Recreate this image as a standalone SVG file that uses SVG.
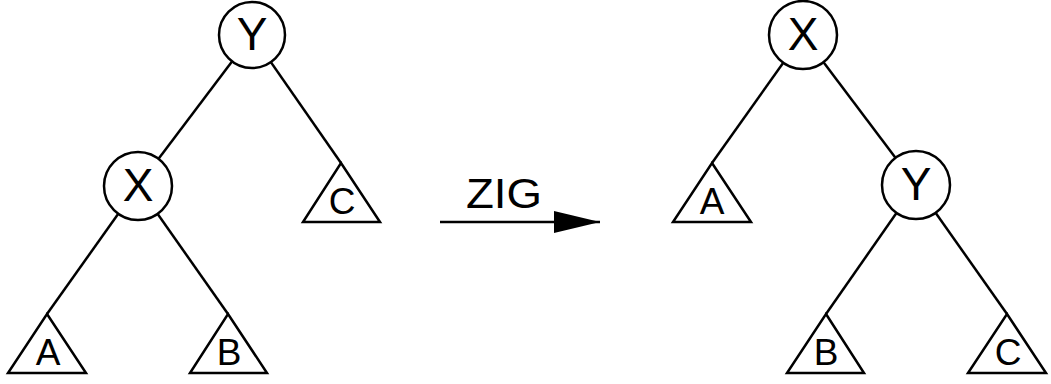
<svg xmlns="http://www.w3.org/2000/svg" width="1051" height="384" viewBox="0 0 1051 384">
  <defs>
    <marker id="head" viewBox="0 0 46 22" refX="46" refY="11" markerWidth="46" markerHeight="22" markerUnits="userSpaceOnUse" orient="auto">
      <path d="M0,0 L46,11 L0,22 Z" fill="#000"/>
    </marker>
  </defs>
  <style>
    .edge { stroke: #000; stroke-width: 2.5; fill: none; }
    .node circle { fill: #fff; stroke: #000; stroke-width: 2.5; }
    .node polygon { fill: #fff; stroke: #000; stroke-width: 2.5; stroke-linejoin: miter; }
    .key { font-family: "Liberation Sans", Arial, sans-serif; font-size: 46px; text-anchor: middle; fill: #000; }
    .sub { font-family: "Liberation Sans", Arial, sans-serif; font-size: 37px; text-anchor: middle; fill: #000; }
    .op { font-family: "Liberation Sans", Arial, sans-serif; font-size: 42px; fill: #000; }
  </style>

  <rect width="1051" height="384" fill="#fff"/>

  <!-- tree edges and the rotation arrow -->
  <g id="connectors">
    <line class="edge" x1="252" y1="35" x2="138" y2="186"/>
    <line class="edge" x1="252" y1="35" x2="341" y2="163"/>
    <line class="edge" x1="138" y1="186" x2="47" y2="314"/>
    <line class="edge" x1="138" y1="186" x2="228" y2="314"/>

    <line class="edge" x1="803" y1="35" x2="712" y2="163"/>
    <line class="edge" x1="803" y1="35" x2="916" y2="185"/>
    <line class="edge" x1="916" y1="185" x2="826" y2="314"/>
    <line class="edge" x1="916" y1="185" x2="1007" y2="314"/>

    <line class="edge" x1="440" y1="222" x2="600" y2="222" marker-end="url(#head)"/>
  </g>

  <text class="op" x="466" y="208" textLength="76" lengthAdjust="spacingAndGlyphs">ZIG</text>

  <!-- before rotation -->
  <g id="left-Y" class="node">
    <circle cx="252" cy="35" r="33"/>
    <text class="key" x="252" y="50">Y</text>
  </g>
  <g id="left-X" class="node">
    <circle cx="138" cy="186" r="34"/>
    <text class="key" x="138" y="201">X</text>
  </g>
  <g id="left-A" class="node">
    <polygon points="47,314 86,373 8,373"/>
    <text class="sub" x="48" y="365">A</text>
  </g>
  <g id="left-B" class="node">
    <polygon points="228,314 267,373 190,373"/>
    <text class="sub" x="229" y="365">B</text>
  </g>
  <g id="left-C" class="node">
    <polygon points="341,163 380,222 303,222"/>
    <text class="sub" x="342" y="214">C</text>
  </g>

  <!-- after rotation -->
  <g id="right-X" class="node">
    <circle cx="803" cy="35" r="34"/>
    <text class="key" x="803" y="50">X</text>
  </g>
  <g id="right-Y" class="node">
    <circle cx="916" cy="185" r="34"/>
    <text class="key" x="916" y="200">Y</text>
  </g>
  <g id="right-A" class="node">
    <polygon points="712,163 751,222 673,222"/>
    <text class="sub" x="712" y="214">A</text>
  </g>
  <g id="right-B" class="node">
    <polygon points="826,314 864,373 787,373"/>
    <text class="sub" x="826" y="365">B</text>
  </g>
  <g id="right-C" class="node">
    <polygon points="1007,314 1046,373 968,373"/>
    <text class="sub" x="1008" y="365">C</text>
  </g>
</svg>
